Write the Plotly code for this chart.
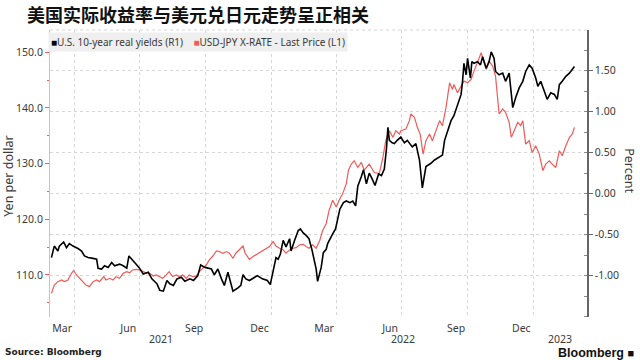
import pandas as pd
import plotly.graph_objects as go

# ---------------- data ----------------
yield_dates = [
    "2021-02-28", "2021-03-04", "2021-03-09", "2021-03-11", "2021-03-17", "2021-03-21", "2021-03-25", "2021-03-30",
    "2021-04-06", "2021-04-11", "2021-04-15", "2021-04-20", "2021-04-27", "2021-05-02", "2021-05-04", "2021-05-09",
    "2021-05-13", "2021-05-18", "2021-05-23", "2021-05-27", "2021-06-03", "2021-06-08", "2021-06-13", "2021-06-16",
    "2021-06-20", "2021-06-24", "2021-06-30", "2021-07-06", "2021-07-13", "2021-07-18", "2021-07-25", "2021-07-29",
    "2021-08-03", "2021-08-08", "2021-08-12", "2021-08-17", "2021-08-22", "2021-08-28", "2021-09-02", "2021-09-09",
    "2021-09-14", "2021-09-20", "2021-09-24", "2021-09-30", "2021-10-04", "2021-10-09", "2021-10-13", "2021-10-18",
    "2021-10-23", "2021-10-27", "2021-11-01", "2021-11-05", "2021-11-08", "2021-11-15", "2021-11-19", "2021-11-22",
    "2021-11-26", "2021-12-01", "2021-12-06", "2021-12-12", "2021-12-19", "2021-12-26", "2021-12-30", "2022-01-03",
    "2022-01-07", "2022-01-10", "2022-01-13", "2022-01-17", "2022-01-21", "2022-01-26", "2022-01-28", "2022-02-02",
    "2022-02-07", "2022-02-10", "2022-02-14", "2022-02-18", "2022-02-22", "2022-02-26", "2022-03-02", "2022-03-04",
    "2022-03-06", "2022-03-09", "2022-03-11", "2022-03-14", "2022-03-18", "2022-03-20", "2022-03-23", "2022-03-27",
    "2022-03-31", "2022-04-03", "2022-04-06", "2022-04-11", "2022-04-15", "2022-04-20", "2022-04-24", "2022-04-28",
    "2022-05-01", "2022-05-06", "2022-05-09", "2022-05-13", "2022-05-17", "2022-05-21", "2022-05-25", "2022-05-30",
    "2022-06-03", "2022-06-07", "2022-06-10", "2022-06-12", "2022-06-14", "2022-06-18", "2022-06-21", "2022-06-25",
    "2022-06-30", "2022-07-05", "2022-07-09", "2022-07-16", "2022-07-21", "2022-07-26", "2022-07-30", "2022-08-04",
    "2022-08-11", "2022-08-16", "2022-08-23", "2022-08-27", "2022-08-30", "2022-09-03", "2022-09-08", "2022-09-12",
    "2022-09-17", "2022-09-22", "2022-09-24", "2022-09-26", "2022-09-29", "2022-10-01", "2022-10-05", "2022-10-07",
    "2022-10-10", "2022-10-15", "2022-10-19", "2022-10-22", "2022-10-27", "2022-10-31", "2022-11-03", "2022-11-07",
    "2022-11-09", "2022-11-14", "2022-11-19", "2022-11-23", "2022-11-28", "2022-11-30", "2022-12-03", "2022-12-07",
    "2022-12-12", "2022-12-17", "2022-12-21", "2022-12-26", "2022-12-30", "2023-01-04", "2023-01-07", "2023-01-11",
    "2023-01-16", "2023-01-20", "2023-01-25", "2023-01-30", "2023-02-03", "2023-02-06", "2023-02-10", "2023-02-15",
    "2023-02-20", "2023-02-24", "2023-02-27",
]
real_yields = [
    -0.78, -0.64, -0.70, -0.64, -0.59, -0.66, -0.61, -0.64,
    -0.67, -0.70, -0.76, -0.78, -0.79, -0.80, -0.91, -0.92,
    -0.88, -0.90, -0.84, -0.88, -0.86, -0.88, -0.91, -0.76,
    -0.80, -0.84, -0.90, -0.98, -0.96, -1.04, -1.10, -1.18,
    -1.19, -1.06, -1.10, -1.12, -1.04, -1.02, -1.07, -1.04,
    -1.06, -1.00, -0.87, -0.90, -0.91, -0.92, -0.99, -0.92,
    -1.04, -1.12, -0.96, -1.08, -1.19, -1.15, -1.12, -0.99,
    -1.04, -1.06, -1.03, -1.00, -1.04, -1.06, -1.11, -0.92,
    -0.78, -0.80, -0.74, -0.57, -0.65, -0.55, -0.70, -0.57,
    -0.45, -0.43, -0.48, -0.51, -0.55, -0.68, -0.86, -0.92,
    -1.07, -0.96, -0.90, -0.72, -0.68, -0.61, -0.55, -0.49,
    -0.43, -0.31, -0.19, -0.11, -0.09, -0.11, -0.09, -0.15,
    0.09, 0.21, 0.29, 0.12, 0.25, 0.18, 0.10, 0.24,
    0.22, 0.30, 0.55, 0.81, 0.65, 0.62, 0.61, 0.65,
    0.69, 0.62, 0.65, 0.57, 0.61, 0.41, 0.07, 0.33,
    0.37, 0.41, 0.45, 0.47, 0.65, 0.77, 0.89, 0.95,
    1.09, 1.21, 1.37, 1.59, 1.45, 1.65, 1.41, 1.61,
    1.59, 1.61, 1.57, 1.67, 1.53, 1.61, 1.73, 1.65,
    1.49, 1.45, 1.47, 1.37, 1.47, 1.29, 1.05, 1.17,
    1.29, 1.37, 1.49, 1.57, 1.53, 1.41, 1.31, 1.37,
    1.25, 1.15, 1.23, 1.21, 1.15, 1.33, 1.37, 1.43,
    1.47, 1.51, 1.55,
]

jpy_dates = [
    "2021-02-28", "2021-03-04", "2021-03-09", "2021-03-14", "2021-03-18", "2021-03-23", "2021-03-28", "2021-03-31",
    "2021-04-04", "2021-04-08", "2021-04-13", "2021-04-17", "2021-04-22", "2021-04-27", "2021-05-02", "2021-05-06",
    "2021-05-12", "2021-05-15", "2021-05-20", "2021-05-25", "2021-05-29", "2021-06-03", "2021-06-08", "2021-06-13",
    "2021-06-17", "2021-06-21", "2021-06-26", "2021-07-01", "2021-07-06", "2021-07-10", "2021-07-15", "2021-07-20",
    "2021-07-24", "2021-07-29", "2021-08-02", "2021-08-07", "2021-08-11", "2021-08-16", "2021-08-21", "2021-08-25",
    "2021-08-30", "2021-09-04", "2021-09-08", "2021-09-13", "2021-09-18", "2021-09-22", "2021-09-27", "2021-10-02",
    "2021-10-06", "2021-10-11", "2021-10-16", "2021-10-20", "2021-10-25", "2021-10-30", "2021-11-03", "2021-11-08",
    "2021-11-12", "2021-11-17", "2021-11-22", "2021-11-25", "2021-12-01", "2021-12-06", "2021-12-10", "2021-12-15",
    "2021-12-19", "2021-12-24", "2021-12-29", "2022-01-03", "2022-01-07", "2022-01-12", "2022-01-17", "2022-01-21",
    "2022-01-26", "2022-01-31", "2022-02-04", "2022-02-09", "2022-02-14", "2022-02-18", "2022-02-22", "2022-02-27",
    "2022-03-04", "2022-03-09", "2022-03-13", "2022-03-18", "2022-03-22", "2022-03-27", "2022-03-29", "2022-04-01",
    "2022-04-05", "2022-04-10", "2022-04-15", "2022-04-18", "2022-04-22", "2022-04-26", "2022-05-01", "2022-05-06",
    "2022-05-10", "2022-05-17", "2022-05-24", "2022-05-31", "2022-06-05", "2022-06-09", "2022-06-14", "2022-06-19",
    "2022-06-23", "2022-06-28", "2022-06-30", "2022-07-07", "2022-07-12", "2022-07-14", "2022-07-19", "2022-07-23",
    "2022-07-27", "2022-07-31", "2022-08-04", "2022-08-09", "2022-08-13", "2022-08-18", "2022-08-23", "2022-08-27",
    "2022-09-01", "2022-09-06", "2022-09-10", "2022-09-12", "2022-09-17", "2022-09-22", "2022-09-26", "2022-10-01",
    "2022-10-06", "2022-10-10", "2022-10-15", "2022-10-20", "2022-10-22", "2022-10-27", "2022-10-31", "2022-11-05",
    "2022-11-09", "2022-11-12", "2022-11-14", "2022-11-19", "2022-11-23", "2022-11-28", "2022-12-01", "2022-12-05",
    "2022-12-10", "2022-12-14", "2022-12-17", "2022-12-21", "2022-12-26", "2022-12-30", "2023-01-04", "2023-01-09",
    "2023-01-14", "2023-01-18", "2023-01-23", "2023-01-27", "2023-02-01", "2023-02-06", "2023-02-10", "2023-02-15",
    "2023-02-20", "2023-02-24", "2023-02-27",
]
usd_jpy = [
    106.7, 108.2, 108.8, 109.1, 108.8, 109.1, 110.3, 110.8,
    110.0, 109.4, 108.8, 108.2, 107.9, 108.8, 109.1, 108.8,
    109.7, 109.1, 109.4, 109.1, 109.7, 109.4, 110.3, 110.6,
    110.4, 110.9, 111.0, 110.9, 110.6, 110.4, 110.3, 109.8,
    110.0, 109.6, 109.4, 110.0, 110.6, 109.7, 110.0, 109.7,
    110.0, 109.4, 110.0, 109.7, 109.8, 110.6, 111.2, 111.8,
    112.7, 113.4, 114.3, 114.2, 113.9, 114.2, 113.9, 113.0,
    113.9, 114.5, 115.2, 113.9, 112.8, 113.3, 113.6, 113.9,
    114.2, 114.6, 115.1, 116.0, 115.2, 114.8, 114.5, 113.9,
    114.5, 114.8, 114.9, 115.4, 115.5, 115.1, 114.8, 115.4,
    114.8, 116.2, 118.0, 119.2, 121.6, 123.4, 122.8, 122.2,
    123.4, 124.6, 126.4, 128.8, 129.9, 130.5, 129.3, 130.2,
    128.8, 129.9, 128.4, 128.2, 131.1, 134.1, 135.9, 134.7,
    135.9, 135.3, 135.9, 136.2, 137.7, 138.9, 138.3, 136.5,
    135.3, 131.7, 134.1, 135.3, 134.1, 135.9, 137.7, 136.8,
    140.1, 144.5, 143.3, 144.2, 142.7, 143.9, 144.8, 144.5,
    145.1, 146.6, 148.1, 149.9, 149.0, 146.9, 148.4, 147.5,
    145.7, 141.8, 138.9, 139.8, 139.2, 137.4, 134.7, 135.9,
    137.4, 136.8, 137.7, 133.5, 134.1, 132.0, 133.2, 131.7,
    128.75, 129.9, 130.5, 129.9, 129.3, 132.3, 131.4, 133.2,
    134.7, 135.3, 136.5,
]

month_tick_dates = ["2021-03-15", "2021-06-15", "2021-09-15", "2021-12-15",
                    "2022-03-15", "2022-06-15", "2022-09-15", "2022-12-15"]
month_tick_labels = ["Mar", "Jun", "Sep", "Dec", "Mar", "Jun", "Sep", "Dec"]
quarter_grid_dates = ["2021-04-01", "2021-07-01", "2021-10-01", "2022-01-01",
                      "2022-04-01", "2022-07-01", "2022-10-01", "2023-01-01"]
years = [2021, 2022, 2023]

left_tick_vals = [110, 120, 130, 140, 150]
left_tick_text = ["110.0", "120.0", "130.0", "140.0", "150.0"]
right_tick_vals = [-1.0, -0.5, 0.0, 0.5, 1.0, 1.5]
right_tick_text = ["-1.00", "-0.50", "0.00", "0.50", "1.00", "1.50"]

x_start = pd.Timestamp("2021-02-26")
x_end = pd.Timestamp("2023-03-16 12:00")

RED = "#f25a5a"
BLACK = "#000000"
GRID = "#d6d6d6"
TXT = "#3a3a3a"
FONT = "Noto Sans"

W, H = 640, 360

fig = go.Figure()
fig.add_trace(go.Scatter(x=pd.to_datetime(jpy_dates), y=usd_jpy, mode="lines",
                         line=dict(color=RED, width=1.2), name="USD-JPY X-RATE - Last Price (L1)",
                         yaxis="y", showlegend=False))
fig.add_trace(go.Scatter(x=pd.to_datetime(yield_dates), y=real_yields, mode="lines",
                         line=dict(color=BLACK, width=1.6), name="U.S. 10-year real yields (R1)",
                         yaxis="y2", showlegend=False))

annotations = []
# year labels centred in the visible part of each year
for yr in years:
    lo = max(x_start, pd.Timestamp(f"{yr}-01-01"))
    hi = min(x_end, pd.Timestamp(f"{yr + 1}-01-01"))
    mid = lo + (hi - lo) / 2
    annotations.append(dict(x=mid, y=0, xref="x", yref="paper", text=str(yr), showarrow=False,
                            xanchor="center", yanchor="middle", yshift=-22, borderpad=0,
                            font=dict(family=FONT, size=10.5, color=TXT)))

# legend strip
annotations.append(dict(
    x=0, y=1, xref="paper", yref="paper", xanchor="left", yanchor="top", yshift=-2, xshift=-2,
    showarrow=False, align="left", bgcolor="#efefef", borderpad=2,
    text=(f"<span style='color:{BLACK}'>■</span>U.S. 10-year real yields (R1)    "
          f"<span style='color:{RED}'>■</span>USD-JPY X-RATE - Last Price (L1)"),
    font=dict(family=FONT, size=10, color=TXT)))

# axis titles
annotations.append(dict(x=0, y=0.49, xref="paper", yref="paper", xanchor="center", yanchor="middle",
                        xshift=-41.5, textangle=-90, text="Yen per dollar", showarrow=False,
                        font=dict(family=FONT, size=12.5, color=TXT)))
annotations.append(dict(x=1, y=0.51, xref="paper", yref="paper", xanchor="center", yanchor="middle",
                        xshift=42.5, textangle=90, text="Percent", showarrow=False,
                        font=dict(family=FONT, size=12.5, color=TXT)))

# source and logo
annotations.append(dict(x=0, y=0, xref="paper", yref="paper", xanchor="left", yanchor="middle",
                        xshift=-47, yshift=-35, text="<b>Source: Bloomberg</b>", showarrow=False,
                        font=dict(family="DejaVu Sans", size=9, color="#222222")))
annotations.append(dict(x=1, y=0, xref="paper", yref="paper", xanchor="right", yanchor="middle",
                        xshift=48, yshift=-35.5, borderpad=0,
                        text="<b>Bloomberg</b> <span style='font-size:11px'>■</span>", showarrow=False,
                        font=dict(family="Liberation Sans", size=12.5, color="#111111")))

fig.update_layout(
    width=W, height=H,
    margin=dict(l=50, r=52.5, t=29.5, b=43),
    paper_bgcolor="white", plot_bgcolor="white",
    title=dict(text="<b>美国实际收益率与美元兑日元走势呈正相关</b>",
               x=27 / W, xanchor="left", y=1 - 15.5 / H, yanchor="middle",
               font=dict(family="Noto Sans CJK SC", size=18, color="#111111")),
    xaxis=dict(type="date", range=[x_start, x_end],
               tickmode="array", tickvals=pd.to_datetime(month_tick_dates), ticktext=month_tick_labels,
               ticks="", showgrid=False, showline=False, zeroline=False, ticklabelstandoff=3,
               tickfont=dict(family=FONT, size=10.5, color=TXT),
               minor=dict(tickmode="array", tickvals=pd.to_datetime(quarter_grid_dates),
                          showgrid=True, gridcolor=GRID, griddash="dot", gridwidth=1, ticks="")),
    yaxis=dict(range=[102.45, 153.98], side="left",
               tickmode="array", tickvals=left_tick_vals, ticktext=left_tick_text,
               showgrid=False, zeroline=False,
               showline=True, linecolor="#f6b0b0", linewidth=1,
               ticks="outside", ticklen=4, tickcolor="#f06060", tickwidth=1,
               minor=dict(tickmode="linear", tick0=0, dtick=5, ticks="outside", ticklen=2,
                          tickcolor="#f06060", showgrid=False),
               tickfont=dict(family=FONT, size=10.5, color=TXT)),
    yaxis2=dict(range=[-1.505, 1.996], side="right", overlaying="y",
                tickmode="array", tickvals=right_tick_vals, ticktext=right_tick_text,
                showgrid=True, gridcolor=GRID, griddash="dot", gridwidth=1, zeroline=False,
                showline=True, linecolor="#666666", linewidth=1.5,
                ticks="outside", ticklen=4, tickcolor="#666666", tickwidth=1,
                minor=dict(tickmode="linear", tick0=0, dtick=0.25, ticks="inside", ticklen=3,
                           tickcolor="#888888", showgrid=False),
                tickfont=dict(family=FONT, size=10.5, color=TXT)),
    shapes=[dict(type="line", xref="paper", yref="paper", x0=0, x1=1, y0=1, y1=1,
                 line=dict(color=GRID, width=1, dash="dot"), layer="below")],
    annotations=annotations,
    showlegend=False,
)

# remove the browser's default 8 px page margin so the 640x360 figure fills the window exactly
fig.write_html("out.html", config={"displayModeBar": False},
               post_script="document.body.style.margin='0px';")
